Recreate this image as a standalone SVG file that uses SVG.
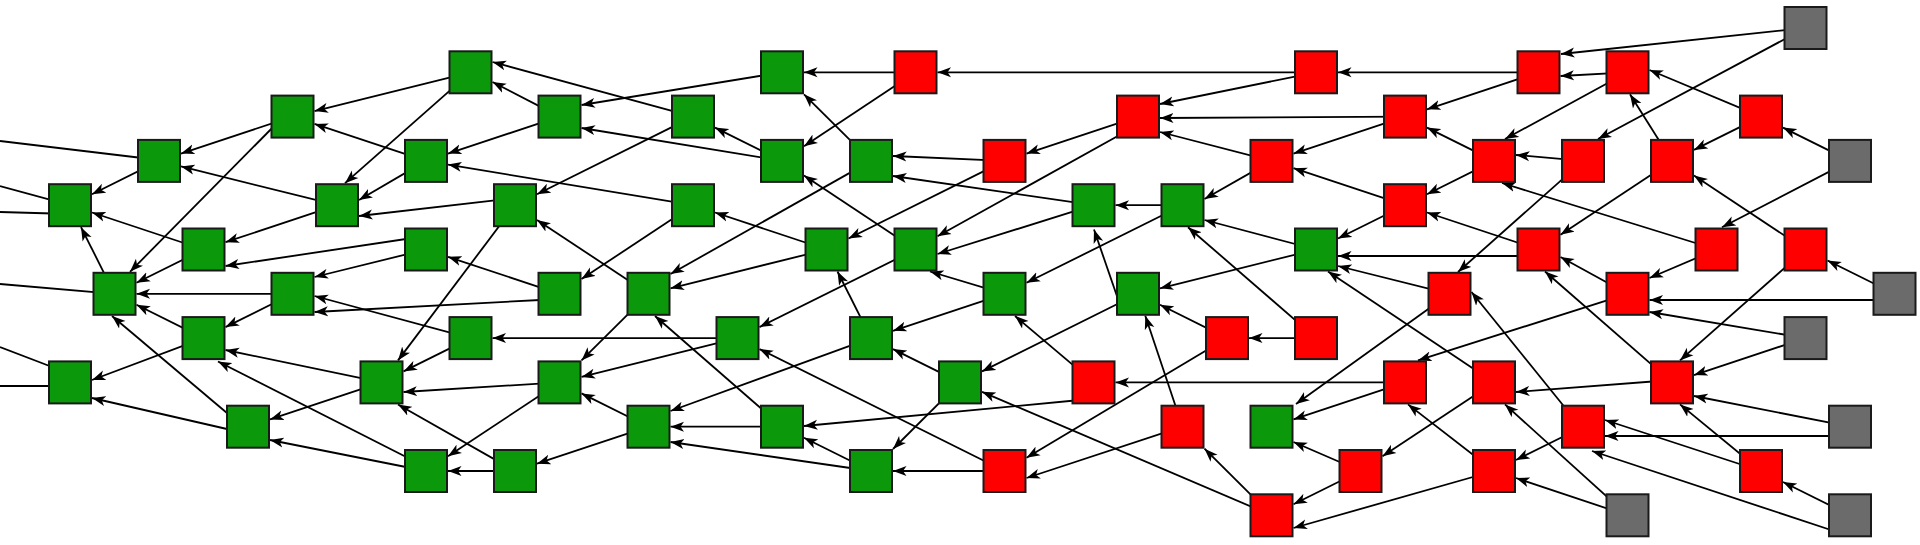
<svg xmlns="http://www.w3.org/2000/svg" width="1920" height="545" viewBox="0 0 1920 545">
<defs>
<style>
.g,.r,.k{stroke:#1a1a1a;stroke-width:2}
.g{fill:#0b990b}.r{fill:#ff0000}.k{fill:#6b6b6b}
#edges line,#exits line{stroke:#000;stroke-width:1.8;fill:none}
#edges line{marker-end:url(#a)}
</style>
<marker id="a" markerUnits="userSpaceOnUse" markerWidth="15" markerHeight="11" refX="13.5" refY="5.5" orient="auto"><path d="M0,0.5 L13.5,5.5 L0,10.5 L3.5,5.5 Z" fill="#000"/></marker>
</defs>
<rect x="0" y="0" width="1920" height="545" fill="#fff"/>
<g id="exits">
<line x1="159" y1="160" x2="0" y2="141"/>
<line x1="70" y1="205.2" x2="0" y2="186"/>
<line x1="70" y1="214" x2="0" y2="212"/>
<line x1="114.5" y1="293.8" x2="0" y2="284"/>
<line x1="60" y1="370" x2="0" y2="347"/>
<line x1="70" y1="386" x2="0" y2="386"/>
</g>
<g id="edges">
<line x1="159" y1="160.9" x2="92" y2="194.2"/>
<line x1="203.5" y1="249.5" x2="92" y2="212.5"/>
<line x1="114.5" y1="293.8" x2="81" y2="227.2"/>
<line x1="292.5" y1="116.6" x2="181" y2="153.6"/>
<line x1="337" y1="205.2" x2="181" y2="166.4"/>
<line x1="285" y1="115" x2="130" y2="271.8"/>
<line x1="203.5" y1="249.5" x2="136.5" y2="282.8"/>
<line x1="292.5" y1="293.8" x2="136.5" y2="293.8"/>
<line x1="203.5" y1="338.1" x2="136.5" y2="304.8"/>
<line x1="240" y1="424" x2="112" y2="316"/>
<line x1="337" y1="205.2" x2="225.5" y2="242.2"/>
<line x1="426" y1="236" x2="225.5" y2="266"/>
<line x1="292.5" y1="293.8" x2="225.5" y2="327.1"/>
<line x1="381.5" y1="382.4" x2="225.5" y2="350"/>
<line x1="420" y1="464" x2="218" y2="361.5"/>
<line x1="203.5" y1="338.1" x2="92" y2="380"/>
<line x1="240" y1="432" x2="92" y2="398"/>
<line x1="381.5" y1="382.4" x2="270" y2="419.4"/>
<line x1="426" y1="471" x2="270" y2="440"/>
<line x1="470.5" y1="72.3" x2="314.5" y2="111.1"/>
<line x1="426" y1="160.9" x2="314.5" y2="123.9"/>
<line x1="470.5" y1="72.3" x2="345" y2="183.2"/>
<line x1="426" y1="160.9" x2="359" y2="200"/>
<line x1="515" y1="198" x2="359" y2="216"/>
<line x1="426" y1="249.5" x2="314.5" y2="277"/>
<line x1="470.5" y1="338.1" x2="314.5" y2="296"/>
<line x1="540" y1="300" x2="314.5" y2="312"/>
<line x1="693" y1="116.6" x2="492.5" y2="62"/>
<line x1="559.5" y1="116.6" x2="492.5" y2="82"/>
<line x1="559.5" y1="116.6" x2="448" y2="153.6"/>
<line x1="693" y1="205.2" x2="448" y2="164.6"/>
<line x1="782" y1="72.3" x2="581.5" y2="105"/>
<line x1="782" y1="160.9" x2="581.5" y2="128"/>
<line x1="693" y1="116.6" x2="537" y2="194.2"/>
<line x1="648.5" y1="293.8" x2="537" y2="219.9"/>
<line x1="515" y1="205.2" x2="398" y2="360.4"/>
<line x1="559.5" y1="293.8" x2="448" y2="256.8"/>
<line x1="693" y1="205.2" x2="581.5" y2="279.1"/>
<line x1="470.5" y1="338.1" x2="403.5" y2="371.4"/>
<line x1="559.5" y1="382.4" x2="403.5" y2="392"/>
<line x1="515" y1="471" x2="398" y2="404.5"/>
<line x1="559.5" y1="382.4" x2="448" y2="456.3"/>
<line x1="515" y1="471" x2="448" y2="471"/>
<line x1="737.5" y1="338.1" x2="492.5" y2="338.1"/>
<line x1="648.5" y1="293.8" x2="581.5" y2="360.4"/>
<line x1="737.5" y1="338.1" x2="581.5" y2="376.9"/>
<line x1="648.5" y1="426.7" x2="581.5" y2="393.4"/>
<line x1="648.5" y1="426.7" x2="537" y2="463.7"/>
<line x1="915.5" y1="72.3" x2="804" y2="72.3"/>
<line x1="915.5" y1="72.3" x2="804" y2="146.2"/>
<line x1="871" y1="160.9" x2="804" y2="94.3"/>
<line x1="782" y1="160.9" x2="715" y2="127.6"/>
<line x1="826.5" y1="249.5" x2="715" y2="212.5"/>
<line x1="915.5" y1="249.5" x2="804" y2="175.6"/>
<line x1="871" y1="160.9" x2="670.5" y2="274"/>
<line x1="826.5" y1="249.5" x2="670.5" y2="288.3"/>
<line x1="782" y1="426.7" x2="655" y2="316"/>
<line x1="871" y1="338.1" x2="837.5" y2="271.5"/>
<line x1="1004.5" y1="160.9" x2="848.5" y2="238.5"/>
<line x1="915.5" y1="249.5" x2="759.5" y2="327.1"/>
<line x1="1004.5" y1="471" x2="759.5" y2="349.1"/>
<line x1="871" y1="338.1" x2="670.5" y2="411"/>
<line x1="782" y1="426.7" x2="670.5" y2="426.7"/>
<line x1="871" y1="471" x2="670.5" y2="442"/>
<line x1="1004.5" y1="293.8" x2="893" y2="330.8"/>
<line x1="960" y1="382.4" x2="893" y2="349.1"/>
<line x1="960" y1="382.4" x2="893" y2="449"/>
<line x1="1080" y1="400" x2="804" y2="426"/>
<line x1="871" y1="471" x2="804" y2="437.7"/>
<line x1="1004.5" y1="471" x2="893" y2="471"/>
<line x1="1004.5" y1="160.9" x2="893" y2="156"/>
<line x1="1093.5" y1="205.2" x2="893" y2="176"/>
<line x1="1125" y1="132" x2="937.5" y2="236.3"/>
<line x1="1093.5" y1="205.2" x2="937.5" y2="254"/>
<line x1="1004.5" y1="293.8" x2="930" y2="271.5"/>
<line x1="1316" y1="72.3" x2="937.5" y2="72.3"/>
<line x1="1138" y1="116.6" x2="1026.5" y2="153.6"/>
<line x1="1316" y1="72.3" x2="1160" y2="104"/>
<line x1="1405" y1="116.6" x2="1160" y2="118"/>
<line x1="1271.5" y1="160.9" x2="1160" y2="132"/>
<line x1="1271.5" y1="160.9" x2="1204.5" y2="199"/>
<line x1="1316" y1="249.5" x2="1204.5" y2="220"/>
<line x1="1316" y1="338.1" x2="1188" y2="227.2"/>
<line x1="1182.5" y1="205.2" x2="1115.5" y2="205.2"/>
<line x1="1119" y1="302" x2="1094" y2="229.5"/>
<line x1="1182.5" y1="205.2" x2="1026.5" y2="282.8"/>
<line x1="1093.5" y1="382.4" x2="1015" y2="316"/>
<line x1="1316" y1="249.5" x2="1160" y2="288.3"/>
<line x1="1227" y1="338.1" x2="1160" y2="304.8"/>
<line x1="1182.5" y1="426.7" x2="1145.3" y2="315.8"/>
<line x1="1138" y1="293.8" x2="982" y2="371.4"/>
<line x1="1271.5" y1="515.3" x2="982" y2="391.8"/>
<line x1="1316" y1="338.1" x2="1249" y2="338.1"/>
<line x1="1227" y1="338.1" x2="1026.5" y2="457.8"/>
<line x1="1182.5" y1="426.7" x2="1026.5" y2="478"/>
<line x1="1271.5" y1="515.3" x2="1204.5" y2="448.7"/>
<line x1="1405" y1="382.4" x2="1115.5" y2="382.4"/>
<line x1="1538.5" y1="72.3" x2="1338" y2="72.3"/>
<line x1="1805.5" y1="28" x2="1561" y2="54"/>
<line x1="1627.5" y1="72.3" x2="1560.5" y2="76"/>
<line x1="1538.5" y1="72.3" x2="1427" y2="109.3"/>
<line x1="1494" y1="160.9" x2="1427" y2="127.6"/>
<line x1="1405" y1="116.6" x2="1293.5" y2="153.6"/>
<line x1="1405" y1="205.2" x2="1293.5" y2="168.2"/>
<line x1="1494" y1="160.9" x2="1427" y2="194.2"/>
<line x1="1538.5" y1="249.5" x2="1427" y2="212.5"/>
<line x1="1405" y1="205.2" x2="1338" y2="238.5"/>
<line x1="1538.5" y1="256" x2="1338" y2="256"/>
<line x1="1449.5" y1="293.8" x2="1338" y2="266"/>
<line x1="1494" y1="382.4" x2="1328" y2="271.5"/>
<line x1="1627.5" y1="72.3" x2="1505" y2="139"/>
<line x1="1583" y1="160.9" x2="1516" y2="155"/>
<line x1="1716.5" y1="249.5" x2="1502" y2="183"/>
<line x1="1805.5" y1="28" x2="1598" y2="139"/>
<line x1="1583" y1="160.9" x2="1458" y2="272"/>
<line x1="1575" y1="420" x2="1471.5" y2="292"/>
<line x1="1449.5" y1="293.8" x2="1296" y2="404"/>
<line x1="1405" y1="382.4" x2="1293.5" y2="419.4"/>
<line x1="1360.5" y1="471" x2="1293.5" y2="442"/>
<line x1="1360.5" y1="471" x2="1293.5" y2="504.3"/>
<line x1="1494" y1="471" x2="1293.5" y2="528"/>
<line x1="1627.5" y1="293.8" x2="1418" y2="360.4"/>
<line x1="1494" y1="471" x2="1408" y2="404.4"/>
<line x1="1672" y1="380" x2="1516" y2="392"/>
<line x1="1627.5" y1="515.3" x2="1505" y2="404.4"/>
<line x1="1494" y1="382.4" x2="1382.5" y2="456.3"/>
<line x1="1583" y1="426.7" x2="1516" y2="460"/>
<line x1="1627.5" y1="515.3" x2="1516" y2="478"/>
<line x1="1672" y1="160.9" x2="1560.5" y2="234.8"/>
<line x1="1627.5" y1="293.8" x2="1560.5" y2="257"/>
<line x1="1672" y1="382.4" x2="1545" y2="271.5"/>
<line x1="1761" y1="116.6" x2="1649.5" y2="70"/>
<line x1="1672" y1="160.9" x2="1630" y2="94.3"/>
<line x1="1761" y1="116.6" x2="1694" y2="149.9"/>
<line x1="1805.5" y1="249.5" x2="1694" y2="175.6"/>
<line x1="1850" y1="160.9" x2="1783" y2="127.6"/>
<line x1="1850" y1="160.9" x2="1722" y2="227.2"/>
<line x1="1716.5" y1="249.5" x2="1649.5" y2="278"/>
<line x1="1894.5" y1="300" x2="1649.5" y2="300"/>
<line x1="1805.5" y1="338.1" x2="1649.5" y2="312"/>
<line x1="1894.5" y1="293.8" x2="1827.5" y2="260.5"/>
<line x1="1805.5" y1="338.1" x2="1694" y2="375.1"/>
<line x1="1805.5" y1="249.5" x2="1680" y2="360.4"/>
<line x1="1850" y1="426.7" x2="1694" y2="396"/>
<line x1="1761" y1="471" x2="1680" y2="404.4"/>
<line x1="1850" y1="436" x2="1605" y2="436"/>
<line x1="1761" y1="471" x2="1605" y2="420"/>
<line x1="1840" y1="533" x2="1592" y2="451"/>
<line x1="1850" y1="515.3" x2="1783" y2="482"/>
</g>
<g id="n0_4"><rect class="g" x="49" y="184.2" width="42" height="42"/></g>
<g id="n0_8"><rect class="g" x="49" y="361.4" width="42" height="42"/></g>
<g id="n1_6"><rect class="g" x="93.5" y="272.8" width="42" height="42"/></g>
<g id="n2_3"><rect class="g" x="138" y="139.9" width="42" height="42"/></g>
<g id="n3_5"><rect class="g" x="182.5" y="228.5" width="42" height="42"/></g>
<g id="n3_7"><rect class="g" x="182.5" y="317.1" width="42" height="42"/></g>
<g id="n4_9"><rect class="g" x="227" y="405.7" width="42" height="42"/></g>
<g id="n5_2"><rect class="g" x="271.5" y="95.6" width="42" height="42"/></g>
<g id="n5_6"><rect class="g" x="271.5" y="272.8" width="42" height="42"/></g>
<g id="n6_4"><rect class="g" x="316" y="184.2" width="42" height="42"/></g>
<g id="n7_8"><rect class="g" x="360.5" y="361.4" width="42" height="42"/></g>
<g id="n8_3"><rect class="g" x="405" y="139.9" width="42" height="42"/></g>
<g id="n8_5"><rect class="g" x="405" y="228.5" width="42" height="42"/></g>
<g id="n8_10"><rect class="g" x="405" y="450" width="42" height="42"/></g>
<g id="n9_1"><rect class="g" x="449.5" y="51.3" width="42" height="42"/></g>
<g id="n9_7"><rect class="g" x="449.5" y="317.1" width="42" height="42"/></g>
<g id="n10_4"><rect class="g" x="494" y="184.2" width="42" height="42"/></g>
<g id="n10_10"><rect class="g" x="494" y="450" width="42" height="42"/></g>
<g id="n11_2"><rect class="g" x="538.5" y="95.6" width="42" height="42"/></g>
<g id="n11_6"><rect class="g" x="538.5" y="272.8" width="42" height="42"/></g>
<g id="n11_8"><rect class="g" x="538.5" y="361.4" width="42" height="42"/></g>
<g id="n13_6"><rect class="g" x="627.5" y="272.8" width="42" height="42"/></g>
<g id="n13_9"><rect class="g" x="627.5" y="405.7" width="42" height="42"/></g>
<g id="n14_2"><rect class="g" x="672" y="95.6" width="42" height="42"/></g>
<g id="n14_4"><rect class="g" x="672" y="184.2" width="42" height="42"/></g>
<g id="n15_7"><rect class="g" x="716.5" y="317.1" width="42" height="42"/></g>
<g id="n16_1"><rect class="g" x="761" y="51.3" width="42" height="42"/></g>
<g id="n16_3"><rect class="g" x="761" y="139.9" width="42" height="42"/></g>
<g id="n16_9"><rect class="g" x="761" y="405.7" width="42" height="42"/></g>
<g id="n17_5"><rect class="g" x="805.5" y="228.5" width="42" height="42"/></g>
<g id="n18_3"><rect class="g" x="850" y="139.9" width="42" height="42"/></g>
<g id="n18_7"><rect class="g" x="850" y="317.1" width="42" height="42"/></g>
<g id="n18_10"><rect class="g" x="850" y="450" width="42" height="42"/></g>
<g id="n19_5"><rect class="g" x="894.5" y="228.5" width="42" height="42"/></g>
<g id="n20_8"><rect class="g" x="939" y="361.4" width="42" height="42"/></g>
<g id="n21_6"><rect class="g" x="983.5" y="272.8" width="42" height="42"/></g>
<g id="n23_4"><rect class="g" x="1072.5" y="184.2" width="42" height="42"/></g>
<g id="n24_6"><rect class="g" x="1117" y="272.8" width="42" height="42"/></g>
<g id="n25_4"><rect class="g" x="1161.5" y="184.2" width="42" height="42"/></g>
<g id="n27_9"><rect class="g" x="1250.5" y="405.7" width="42" height="42"/></g>
<g id="n28_5"><rect class="g" x="1295" y="228.5" width="42" height="42"/></g>
<g id="n19_1"><rect class="r" x="894.5" y="51.3" width="42" height="42"/></g>
<g id="n21_3"><rect class="r" x="983.5" y="139.9" width="42" height="42"/></g>
<g id="n21_10"><rect class="r" x="983.5" y="450" width="42" height="42"/></g>
<g id="n23_8"><rect class="r" x="1072.5" y="361.4" width="42" height="42"/></g>
<g id="n24_2"><rect class="r" x="1117" y="95.6" width="42" height="42"/></g>
<g id="n25_9"><rect class="r" x="1161.5" y="405.7" width="42" height="42"/></g>
<g id="n26_7"><rect class="r" x="1206" y="317.1" width="42" height="42"/></g>
<g id="n27_3"><rect class="r" x="1250.5" y="139.9" width="42" height="42"/></g>
<g id="n27_11"><rect class="r" x="1250.5" y="494.3" width="42" height="42"/></g>
<g id="n28_1"><rect class="r" x="1295" y="51.3" width="42" height="42"/></g>
<g id="n28_7"><rect class="r" x="1295" y="317.1" width="42" height="42"/></g>
<g id="n29_10"><rect class="r" x="1339.5" y="450" width="42" height="42"/></g>
<g id="n30_2"><rect class="r" x="1384" y="95.6" width="42" height="42"/></g>
<g id="n30_4"><rect class="r" x="1384" y="184.2" width="42" height="42"/></g>
<g id="n30_8"><rect class="r" x="1384" y="361.4" width="42" height="42"/></g>
<g id="n31_6"><rect class="r" x="1428.5" y="272.8" width="42" height="42"/></g>
<g id="n32_3"><rect class="r" x="1473" y="139.9" width="42" height="42"/></g>
<g id="n32_8"><rect class="r" x="1473" y="361.4" width="42" height="42"/></g>
<g id="n32_10"><rect class="r" x="1473" y="450" width="42" height="42"/></g>
<g id="n33_1"><rect class="r" x="1517.5" y="51.3" width="42" height="42"/></g>
<g id="n33_5"><rect class="r" x="1517.5" y="228.5" width="42" height="42"/></g>
<g id="n34_3"><rect class="r" x="1562" y="139.9" width="42" height="42"/></g>
<g id="n34_9"><rect class="r" x="1562" y="405.7" width="42" height="42"/></g>
<g id="n35_1"><rect class="r" x="1606.5" y="51.3" width="42" height="42"/></g>
<g id="n35_6"><rect class="r" x="1606.5" y="272.8" width="42" height="42"/></g>
<g id="n36_3"><rect class="r" x="1651" y="139.9" width="42" height="42"/></g>
<g id="n36_8"><rect class="r" x="1651" y="361.4" width="42" height="42"/></g>
<g id="n37_5"><rect class="r" x="1695.5" y="228.5" width="42" height="42"/></g>
<g id="n38_2"><rect class="r" x="1740" y="95.6" width="42" height="42"/></g>
<g id="n38_10"><rect class="r" x="1740" y="450" width="42" height="42"/></g>
<g id="n39_5"><rect class="r" x="1784.5" y="228.5" width="42" height="42"/></g>
<g id="n39_0"><rect class="k" x="1784.5" y="7" width="42" height="42"/></g>
<g id="n40_3"><rect class="k" x="1829" y="139.9" width="42" height="42"/></g>
<g id="n41_6"><rect class="k" x="1873.5" y="272.8" width="42" height="42"/></g>
<g id="n39_7"><rect class="k" x="1784.5" y="317.1" width="42" height="42"/></g>
<g id="n40_9"><rect class="k" x="1829" y="405.7" width="42" height="42"/></g>
<g id="n35_11"><rect class="k" x="1606.5" y="494.3" width="42" height="42"/></g>
<g id="n40_11"><rect class="k" x="1829" y="494.3" width="42" height="42"/></g>
</svg>
